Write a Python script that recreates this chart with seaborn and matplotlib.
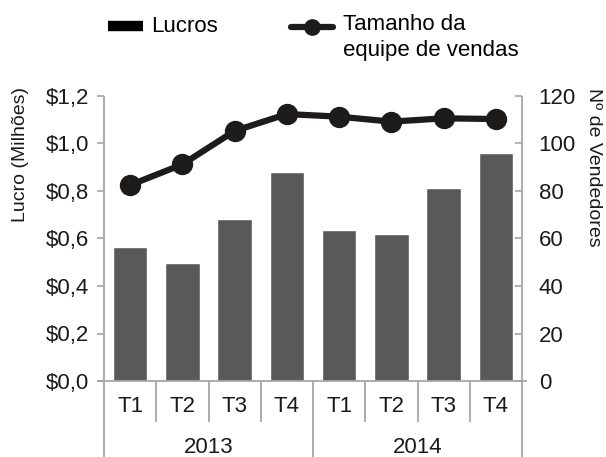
import matplotlib
matplotlib.use("Agg")
import matplotlib.pyplot as plt
from matplotlib.lines import Line2D
import seaborn as sns
import pandas as pd

# ---- data ----
anos = ["2013", "2014"]
trimestres = ["T1", "T2", "T3", "T4"]
lucros = [0.564, 0.497, 0.682, 0.878, 0.636, 0.619, 0.814, 0.959]
vendedores = [82.5, 91.2, 105.3, 112.4, 111.3, 109.2, 110.6, 110.3]
lucro_ticks = [0.0, 0.2, 0.4, 0.6, 0.8, 1.0, 1.2]
vend_ticks = [0, 20, 40, 60, 80, 100, 120]

periodos = [f"{a} {t}" for a in anos for t in trimestres]
df = pd.DataFrame({"periodo": periodos, "lucro": lucros, "vendedores": vendedores})

sns.set_style("white")
plt.rcParams["font.family"] = ["Liberation Sans", "DejaVu Sans"]

BAR = "#595959"
LINE = "#1e1b1b"
GRAY = "#a6a6a6"
TXT = "#1a1a1a"

fig = plt.figure(figsize=(6.06, 4.57), dpi=100)
ax = fig.add_axes([104 / 606, 1 - 381 / 457, 418 / 606, 285 / 457])
ax2 = ax.twinx()

sns.barplot(data=df, x="periodo", y="lucro", order=periodos, color=BAR,
            saturation=1, width=0.657, ax=ax)
sns.pointplot(data=df, x="periodo", y="vendedores", order=periodos, color=LINE,
              markers="o", markersize=12, linewidth=4.5, ax=ax2)

n = len(periodos)
ax.set_xlim(-0.5, n - 0.5)
ax.set_ylim(0, 1.2)
ax2.set_ylim(0, 120)

ax.set_yticks(lucro_ticks)
ax.set_yticklabels([("$%.1f" % v).replace(".", ",") for v in lucro_ticks])
ax2.set_yticks(vend_ticks)
ax2.set_yticklabels([str(v) for v in vend_ticks])

ax.set_xticks(range(n))
ax.set_xticklabels([t for a in anos for t in trimestres])
ax.tick_params(axis="x", length=0, pad=11, labelsize=16, labelcolor=TXT)
ax.tick_params(axis="y", direction="out", length=5, width=1.2, color=GRAY,
               pad=6, labelsize=16, labelcolor=TXT, left=True)
ax2.tick_params(axis="y", direction="in", length=5, width=1.2, color=GRAY,
                pad=12, labelsize=16, labelcolor=TXT, right=True)

for a in (ax, ax2):
    a.set_xlabel("")
    for s in a.spines.values():
        s.set_visible(False)

ax.set_ylabel("Lucro (Milhões)", fontsize=14, color=TXT)
ax.yaxis.set_label_coords(-0.179, 0.793)
ax2.set_ylabel("Nº de Vendedores", fontsize=14, color=TXT, rotation=270,
               va="bottom", ha="center")
ax2.yaxis.set_label_coords(1.150, 0.751)

# category axis lines
xt = ax.get_xaxis_transform()
lk = dict(color=GRAY, lw=1.3, clip_on=False, solid_capstyle="butt")
ax.plot([-0.5 - 0.13, n - 0.5 + 0.1], [0, 0], transform=xt, **lk)
ax.plot([-0.5, -0.5], [1.0, -0.27], transform=xt, **lk)
ax2.plot([n - 0.5, n - 0.5], [1.0, -0.27], transform=xt, **lk)
for i in range(1, n):
    bottom = -0.27 if i % len(trimestres) == 0 else -0.144
    ax.plot([i - 0.5, i - 0.5], [0, bottom], transform=xt, **lk)
for k, ano in enumerate(anos):
    cx = k * len(trimestres) + (len(trimestres) - 1) / 2
    ax.text(cx, -0.235, ano, transform=xt, ha="center", va="center",
            fontsize=16, color=TXT)

# legend
fig.add_artist(Line2D([108 / 606, 143 / 606], [1 - 26 / 457] * 2, color="black",
                      lw=7.5, solid_capstyle="butt", transform=fig.transFigure))
fig.text(151 / 606, 1 - 27 / 457, "Lucros", fontsize=16, va="center", ha="left",
         color="black")
fig.add_artist(Line2D([291 / 606, 312 / 606, 333 / 606], [1 - 27 / 457] * 3,
                      color=LINE, lw=4.5, marker="o", markersize=11,
                      markevery=[1], solid_capstyle="round",
                      transform=fig.transFigure))
fig.text(343 / 606, 1 - 14 / 457, "Tamanho da\nequipe de vendas", fontsize=16,
         va="top", ha="left", color="black", linespacing=1.3)

fig.savefig("out.png", dpi=100)
